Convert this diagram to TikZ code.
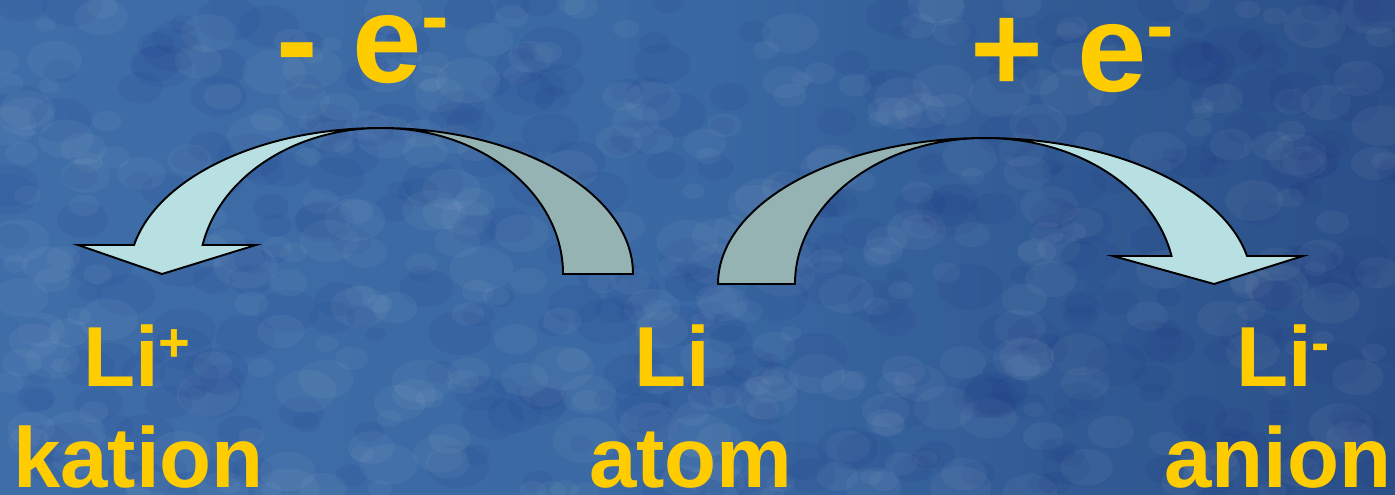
\documentclass[tikz,border=0pt]{standalone}
\usepackage{fontspec}
\setmainfont{Liberation Sans}
\definecolor{bgL}{HTML}{3E6DA8}
\definecolor{bgM}{HTML}{3968A2}
\definecolor{bgR}{HTML}{2B4F88}
\definecolor{txt}{HTML}{FFCC00}
\definecolor{front}{HTML}{B8E0E2}
\definecolor{back}{HTML}{95B3B3}
\tikzset{
  band/.style={draw=black,line width=1.1pt,line join=miter},
  lbl/.style={anchor=base west,inner sep=0pt,outer sep=0pt,text=txt,text height=34pt,text depth=0pt,font=\bfseries\fontsize{48.5}{52}\selectfont},
  big/.style={anchor=base west,inner sep=0pt,outer sep=0pt,text=txt,text height=36pt,text depth=0pt,font=\bfseries\fontsize{71}{76}\selectfont}
}
\newcommand{\supS}[1]{\raisebox{14pt}{\fontsize{31}{33}\selectfont #1}}
\newcommand{\supB}[1]{\raisebox{22pt}{\fontsize{47}{50}\selectfont #1}}
\begin{document}
\begin{tikzpicture}[x=0.02cm,y=0.02cm]
\useasboundingbox (0,0) rectangle (1395,494);
% background
\shade[left color=bgL,right color=bgR,middle color=bgM] (0,0) rectangle (1395,494);
\pgfmathsetseed{11}
\begin{scope}
\clip (0,0) rectangle (1395,494);
\foreach \i in {1,...,360}{
  \pgfmathsetmacro\xx{rnd*1395}
  \pgfmathsetmacro\yy{rnd*494}
  \pgfmathsetmacro\rr{0.2+rnd*0.45}
  \fill[white,opacity=0.045] (\xx,\yy) ellipse[x radius=\rr cm,y radius=0.7*\rr cm];
}
\foreach \i in {1,...,360}{
  \pgfmathsetmacro\xx{rnd*1395}
  \pgfmathsetmacro\yy{rnd*494}
  \pgfmathsetmacro\rr{0.2+rnd*0.45}
  \fill[black!60!blue,opacity=0.045] (\xx,\yy) ellipse[x radius=\rr cm,y radius=0.7*\rr cm];
}
\end{scope}
% left curved arrow (- e-)
\filldraw[band,fill=back] (633,220) arc[start angle=0,end angle=90,x radius=5.04cm,y radius=2.92cm]
  arc[start angle=90,end angle=0,x radius=3.64cm,y radius=2.92cm] -- cycle;
\filldraw[band,fill=front] (381,366) arc[start angle=90,end angle=168.54,x radius=5.04cm,y radius=2.92cm]
  -- (78,249) -- (162,220) -- (256,249) -- (202.6,249)
  arc[start angle=168.54,end angle=90,x radius=3.64cm,y radius=2.92cm] -- cycle;
% right curved arrow (+ e-)
\filldraw[band,fill=back] (718,210) arc[start angle=180,end angle=90,x radius=5.34cm,y radius=2.92cm]
  arc[start angle=90,end angle=180,x radius=3.80cm,y radius=2.92cm] -- cycle;
\filldraw[band,fill=front] (985,356) arc[start angle=90,end angle=11.06,x radius=5.34cm,y radius=2.92cm]
  -- (1303,238) -- (1214,210) -- (1113,238) -- (1171.5,238)
  arc[start angle=11.06,end angle=90,x radius=3.80cm,y radius=2.92cm] -- cycle;
% texts
\node[big] (lose) at (276,411) {-\ e\supB{-}};
\node[big] (gain) at (970,402) {+\ e\supB{-}};
\node[lbl] (cat) at (83,108) {Li\supS{+}};
\node[lbl] (catw) at (13,7) {kation};
\node[lbl] (atm) at (634,108) {Li};
\node[lbl] (atmw) at (589,7) {atom};
\node[lbl] (an) at (1236,108) {Li\supS{-}};
\node[lbl] (anw) at (1164,7) {anion};
\end{tikzpicture}
\end{document}
